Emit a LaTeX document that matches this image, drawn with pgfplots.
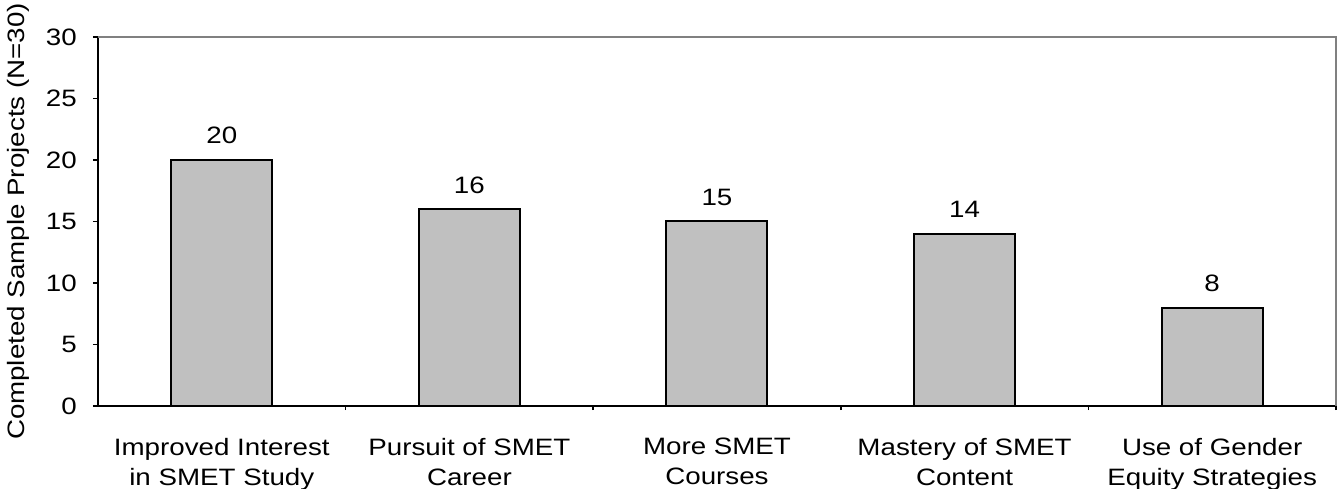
\documentclass[border=0pt]{standalone}
\usepackage{pgfplots}
\pgfplotsset{compat=1.18}
\usepackage{fontspec}
\setmainfont{Liberation Sans}[FakeStretch=1.17]
\definecolor{barfill}{RGB}{192,192,192}
\definecolor{frame}{RGB}{128,128,128}
\newcommand\f{\fontsize{23.7bp}{30bp}\selectfont}
\begin{document}
\begin{tikzpicture}
\useasboundingbox (0,0) rectangle (1338bp,489bp);
\begin{axis}[
  at={(98bp,83bp)}, anchor=south west,
  scale only axis,
  width=1238bp, height=369bp,
  xmin=-0.5, xmax=4.5, ymin=0, ymax=30,
  axis x line*=bottom, axis y line*=left,
  axis line style={-, line width=2bp, black},
  ytick={0,5,...,30},
  xtick={0,1,2,3,4},
  xticklabels={{Improved Interest\\in SMET Study},{Pursuit of SMET\\Career},{More SMET\\Courses},{Mastery of SMET\\Content},{Use of Gender\\Equity Strategies}},
  minor xtick={0.5,1.5,2.5,3.5,4.5},
  tick align=outside,
  x tick style={draw=none},
  minor x tick style={draw=black, line width=1.5bp},
  minor tick length=4bp,
  major tick length=5bp,
  y tick style={black, line width=1.5bp},
  /pgf/number format/assume math mode=true,
  tick label style={font=\f},
  xticklabel style={align=center, anchor=north, inner sep=0pt, yshift=-27bp},
  yticklabel style={anchor=east, inner sep=0pt, xshift=-16bp},
  ylabel={Completed Sample Projects (N=30)},
  every axis y label/.style={at={(axis description cs:-0.059,0.5)}, rotate=90, anchor=base, font=\f},
  ybar, bar width=101bp,
  nodes near coords,
  every node near coord/.append style={font=\f, anchor=base, yshift=16bp},
  clip=false,
]
\draw[frame, line width=2bp] (rel axis cs:0,1) -- (rel axis cs:1,1) -- (rel axis cs:1,0);
\addplot[fill=barfill, draw=black, line width=2bp] coordinates {(0,20) (1,16) (2,15) (3,14) (4,8)};
\end{axis}
\end{tikzpicture}
\end{document}
